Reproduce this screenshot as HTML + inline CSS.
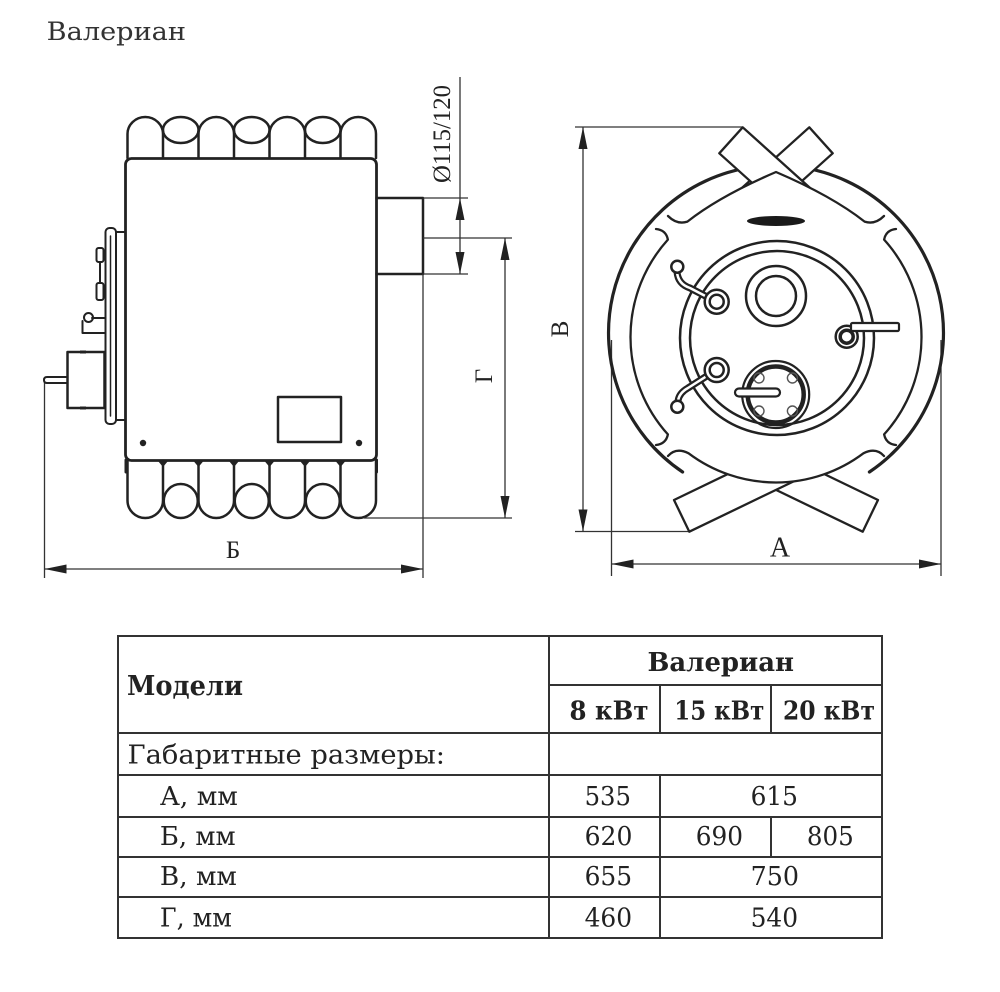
<!DOCTYPE html>
<html><head><meta charset="utf-8"><style>
html,body{margin:0;padding:0;background:#fff;}
svg{display:block;}
.ds{font-family:"DejaVu Serif","Liberation Serif",serif;}
.ls{font-family:"Liberation Serif","DejaVu Serif",serif;}
</style></head><body>
<svg width="1000" height="992" viewBox="0 0 1000 992" xmlns="http://www.w3.org/2000/svg">
<rect width="1000" height="992" fill="#fff"/>
<text class="ds" x="46.7" y="40" font-size="25" fill="#333" textLength="139.3" lengthAdjust="spacingAndGlyphs">Валериан</text>
<g fill="none" stroke="#222" stroke-width="2.5" stroke-linecap="round" stroke-linejoin="round">
<path d="M127.5,158V134A17.75,17 0 0 1 163,134V158 M198.5,158V134A17.75,17 0 0 1 234,134V158 M269.5,158V134A17.75,17 0 0 1 305,134V158 M340.5,158V134A17.75,17 0 0 1 376,134V158"/>
<ellipse cx="180.75" cy="130" rx="17.75" ry="13"/>
<ellipse cx="251.75" cy="130" rx="17.75" ry="13"/>
<ellipse cx="322.75" cy="130" rx="17.75" ry="13"/>
<rect x="125.5" y="158.5" width="251" height="302" rx="6" stroke-width="2.8"/>
<path d="M127.5,461V500.5A17.75,17.5 0 0 0 163,500.5V461 M198.5,461V500.5A17.75,17.5 0 0 0 234,500.5V461 M269.5,461V500.5A17.75,17.5 0 0 0 305,500.5V461 M340.5,461V500.5A17.75,17.5 0 0 0 376,500.5V461"/>
<circle cx="180.75" cy="501" r="17"/>
<circle cx="251.75" cy="501" r="17"/>
<circle cx="322.75" cy="501" r="17"/>
<path d="M126,460V472 M376.5,460V472" stroke-width="3"/>
<rect x="278" y="397" width="63" height="45"/>
<path d="M376.5,198H423V274H376.5"/>
<rect x="116" y="232" width="9.5" height="188" stroke-width="2"/>
<rect x="105.5" y="228" width="10.5" height="196" rx="4" stroke-width="2"/>
<path d="M110.5,236V416" stroke-width="1.5"/>
<rect x="96.5" y="248" width="7" height="14" rx="2" stroke-width="2"/>
<rect x="96.5" y="283" width="7" height="17" rx="2" stroke-width="2"/>
<path d="M100,262V283" stroke-width="2"/>
<circle cx="88.5" cy="317.5" r="4.5" stroke-width="2"/>
<path d="M82.5,321V333H105 M92,318H105" stroke-width="2"/>
<rect x="67.5" y="352" width="37" height="56" stroke-width="2.5"/>
<path d="M67.5,377H47Q44,377 44,380Q44,383 47,383H67.5" stroke-width="2"/>
</g>
<g fill="#222">
<polygon points="158,461 168,461 163,467"/><polygon points="193.5,461 203.5,461 198.5,467"/><polygon points="229,461 239,461 234,467"/><polygon points="264.5,461 274.5,461 269.5,467"/><polygon points="300,461 310,461 305,467"/><polygon points="335.5,461 345.5,461 340.5,467"/>
<circle cx="143" cy="443" r="3.2"/><circle cx="359" cy="443" r="3.2"/>
<rect x="80" y="350.5" width="6" height="3"/><rect x="80" y="406.5" width="6" height="3"/>
</g>
<!-- dimensions -->
<g stroke="#333" stroke-width="1.3" fill="none">
<path d="M423,198H468 M423,274H468 M460,77V274 M423,238H512 M364,518H512 M505,238V518 M44.5,383V578 M423,274V578 M44.5,569H423"/>
<path d="M575,127H742 M575,531.5H689 M583,127V531.5 M611.5,340V576 M941,340V576 M611.5,564H941"/>
</g>
<g fill="#222">
<polygon points="460,198 455.5,220 464.5,220"/><polygon points="460,274 455.5,252 464.5,252"/>
<polygon points="505,238 500.5,260 509.5,260"/><polygon points="505,518 500.5,496 509.5,496"/>
<polygon points="44.5,569 66.5,564.5 66.5,573.5"/><polygon points="423,569 401,564.5 401,573.5"/>
<polygon points="583,127 578.5,149 587.5,149"/><polygon points="583,531.5 578.5,509.5 587.5,509.5"/>
<polygon points="611.5,564 633.5,559.5 633.5,568.5"/><polygon points="941,564 919,559.5 919,568.5"/>
</g>
<g class="ls" fill="#222">
<text x="450" y="134" font-size="25" text-anchor="middle" transform="rotate(-90 450 134)" textLength="98" lengthAdjust="spacingAndGlyphs">Ø115/120</text>
<text x="492" y="376" font-size="25" text-anchor="middle" transform="rotate(-90 492 376)">Г</text>
<text x="233" y="558" font-size="25" text-anchor="middle">Б</text>
<text x="568" y="329" font-size="25" text-anchor="middle" transform="rotate(-90 568 329)">В</text>
<text x="780" y="556.5" font-size="28" text-anchor="middle">А</text>
</g>
<!-- front view -->
<g fill="none" stroke="#222" stroke-linecap="round" stroke-linejoin="round">
<path d="M752.7,167.1A167.5,167.5 0 0 0 682.6,472" stroke-width="3.2"/>
<path d="M799.3,167.1A167.5,167.5 0 0 1 869.4,472" stroke-width="3.2"/>
<polygon points="809.3,127.3 832.7,153.3 743.5,233.6 720.1,207.6" fill="#fff" stroke-width="2.3"/>
<polygon points="742.7,127.3 719.3,153.3 808.5,233.6 831.9,207.6" fill="#fff" stroke-width="2.3"/>
<polygon points="878,500 862.7,531.7 727.5,466.5 742.9,434.8" fill="#fff" stroke-width="2.3"/>
<polygon points="674,500 689.3,531.7 824.5,466.5 809.2,434.8" fill="#fff" stroke-width="2.3"/>
<path d="M687.4,221.6Q720,196 776,172Q832,196 864.6,221.6A145.5,145.5 0 1 1 687.4,221.6Z" fill="#fff" stroke="none"/>
<path d="M668,216Q677,225 687.4,221.6Q720,196 776,172Q832,196 864.6,221.6Q875,225 884,216" stroke-width="2.3"/>
<path d="M656,229Q666,230 667.9,239.6A145.5,145.5 0 0 0 667.9,434.4Q666,444 656,445" stroke-width="2.3"/>
<path d="M896,229Q886,230 884.1,239.6A145.5,145.5 0 0 1 884.1,434.4Q886,444 896,445" stroke-width="2.3"/>
<path d="M668,456Q676,447 688.6,453.3A145.5,145.5 0 0 0 863.4,453.3Q876,447 884,456" stroke-width="2.3"/>
<circle cx="777" cy="338" r="97" stroke-width="2.5"/>
<circle cx="777" cy="338" r="87" stroke-width="2.5"/>
<circle cx="776" cy="296" r="30" stroke-width="2.5"/>
<circle cx="776" cy="296" r="20" stroke-width="2.5"/>
<path d="M677,272Q678,284 690,288L713,300" stroke-width="7"/>
<path d="M677,272Q678,284 690,288L713,300" stroke="#fff" stroke-width="2.5"/>
<circle cx="677.3" cy="266.7" r="6" fill="#fff" stroke-width="2.5"/>
<circle cx="716.7" cy="301.7" r="12" fill="#fff" stroke-width="2.5"/>
<circle cx="716.7" cy="301.7" r="7" fill="#fff" stroke-width="2.5"/>
<path d="M710,374L688,388Q679,393 678,401" stroke-width="7"/>
<path d="M710,374L688,388Q679,393 678,401" stroke="#fff" stroke-width="2.5"/>
<circle cx="677.3" cy="406.7" r="6" fill="#fff" stroke-width="2.5"/>
<circle cx="716.7" cy="370" r="12" fill="#fff" stroke-width="2.5"/>
<circle cx="716.7" cy="370" r="7" fill="#fff" stroke-width="2.5"/>
<circle cx="846.7" cy="336.7" r="11" fill="#fff" stroke-width="2.5"/>
<circle cx="846.7" cy="336.7" r="6.5" stroke-width="3.5"/>
<rect x="851" y="323" width="48" height="8" rx="1.5" fill="#fff" stroke-width="2.2"/>
<circle cx="775.7" cy="394.5" r="33.5" stroke-width="2.2"/>
<circle cx="775.7" cy="394.5" r="28" stroke-width="4.5"/>
<g stroke-width="1.4" stroke="#555"><circle cx="759" cy="378" r="5"/><circle cx="792.4" cy="378" r="5"/><circle cx="759" cy="411" r="5"/><circle cx="792.4" cy="411" r="5"/></g>
<rect x="735" y="388.5" width="45" height="8" rx="4" fill="#fff" stroke-width="2.2"/>
</g>
<ellipse cx="776" cy="221" rx="29" ry="5" fill="#1a1a1a"/>
<!-- table -->
<g stroke="#333" stroke-width="2" fill="none">
<rect x="118" y="636" width="764" height="302"/>
<path d="M549,636V938 M549,685H882 M118,733H882 M118,775H882 M118,817H882 M118,857H882 M118,897H882 M660,685V733 M771,685V733 M660,775V938 M771,817V857"/>
</g>
<g class="ds" fill="#222" font-size="26">
<text x="127" y="695" font-size="27" font-weight="bold" textLength="116" lengthAdjust="spacingAndGlyphs">Модели</text>
<text x="647.5" y="671" font-weight="bold" textLength="146.5" lengthAdjust="spacingAndGlyphs">Валериан</text>
<text x="569.5" y="719.5" font-weight="bold" textLength="79" lengthAdjust="spacingAndGlyphs">8 кВт</text>
<text x="674.3" y="719.5" font-weight="bold" textLength="90" lengthAdjust="spacingAndGlyphs">15 кВт</text>
<text x="783" y="719.5" font-weight="bold" textLength="92" lengthAdjust="spacingAndGlyphs">20 кВт</text>
<text x="127.5" y="763.3" textLength="317.5" lengthAdjust="spacingAndGlyphs">Габаритные размеры:</text>
<text x="159.9" y="805" textLength="78" lengthAdjust="spacingAndGlyphs">А, мм</text>
<text x="159.9" y="845" textLength="75.7" lengthAdjust="spacingAndGlyphs">Б, мм</text>
<text x="159.9" y="885" textLength="77" lengthAdjust="spacingAndGlyphs">В, мм</text>
<text x="159.9" y="926.5" textLength="72" lengthAdjust="spacingAndGlyphs">Г, мм</text>
<text x="584.6" y="805" textLength="46.4" lengthAdjust="spacingAndGlyphs">535</text>
<text x="750.6" y="805" textLength="47.4" lengthAdjust="spacingAndGlyphs">615</text>
<text x="584.6" y="845" textLength="47.8" lengthAdjust="spacingAndGlyphs">620</text>
<text x="695.7" y="845" textLength="47.3" lengthAdjust="spacingAndGlyphs">690</text>
<text x="806.9" y="845" textLength="46.9" lengthAdjust="spacingAndGlyphs">805</text>
<text x="584.6" y="885" textLength="47.5" lengthAdjust="spacingAndGlyphs">655</text>
<text x="750.6" y="885" textLength="48.4" lengthAdjust="spacingAndGlyphs">750</text>
<text x="584.6" y="926.5" textLength="47.5" lengthAdjust="spacingAndGlyphs">460</text>
<text x="750.6" y="926.5" textLength="47.5" lengthAdjust="spacingAndGlyphs">540</text>
</g>
</svg>
</body></html>
